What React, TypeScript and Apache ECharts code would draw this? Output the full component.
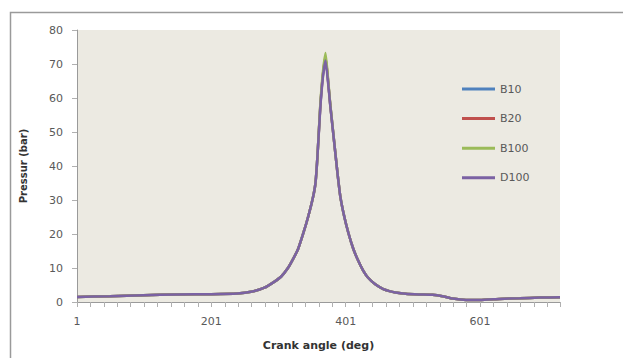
import React, { useEffect, useRef } from "react";
import * as echarts from "echarts";

const crankAngle = [1, 50, 100, 150, 201, 240, 260, 280, 295, 305, 315, 322, 330, 338, 345, 352, 356, 359, 363, 367, 371, 375, 378, 382, 386, 389, 393, 399, 405, 412, 419, 427, 434, 445, 457, 466, 475, 490, 510, 530, 545, 560, 580, 601, 630, 660, 690, 720];

const b10 = [1.5, 1.7, 2.0, 2.2, 2.3, 2.5, 3.0, 4.2, 6.0, 7.5, 10, 12.4, 15.5, 20.3, 25, 30.5, 35, 43, 57, 66.5, 72, 64.5, 58, 50.5, 43, 37.5, 31, 25, 20.3, 15.8, 12.4, 9.2, 7.2, 5.2, 3.8, 3.2, 2.8, 2.4, 2.2, 2.1, 1.7, 1.0, 0.6, 0.6, 0.9, 1.1, 1.3, 1.4];
const b20 = [1.5, 1.7, 2.0, 2.2, 2.3, 2.5, 3.0, 4.2, 6.0, 7.5, 10, 12.4, 15.5, 20.3, 25, 30.5, 35, 43, 57, 66.8, 72.3, 64.6, 58, 50.5, 43, 37.5, 31, 25, 20.3, 15.8, 12.4, 9.2, 7.2, 5.2, 3.8, 3.2, 2.8, 2.4, 2.2, 2.1, 1.7, 1.0, 0.6, 0.6, 0.9, 1.1, 1.3, 1.4];
const b100 = [1.5, 1.7, 2.0, 2.2, 2.3, 2.5, 3.0, 4.2, 6.0, 7.5, 10, 12.4, 15.5, 20.3, 25, 30.5, 35, 43, 57.5, 67.5, 73.2, 65, 58.3, 50.6, 43, 37.5, 31, 25, 20.3, 15.8, 12.4, 9.2, 7.2, 5.2, 3.8, 3.2, 2.8, 2.4, 2.2, 2.1, 1.7, 1.0, 0.6, 0.6, 0.9, 1.1, 1.3, 1.4];
const d100 = [1.5, 1.7, 2.0, 2.2, 2.3, 2.5, 3.0, 4.2, 6.0, 7.5, 10, 12.4, 15.5, 20.3, 25, 30.5, 35, 43, 56.5, 66, 71, 64, 57.8, 50.4, 43, 37.5, 31, 25, 20.3, 15.8, 12.4, 9.2, 7.2, 5.2, 3.8, 3.2, 2.8, 2.4, 2.2, 2.1, 1.7, 1.0, 0.6, 0.6, 0.9, 1.1, 1.3, 1.4];

const seriesNames = ["B10", "B20", "B100", "D100"];
const seriesColors = ["#4F81BD", "#C0504D", "#9BBB59", "#7B62A3"];
const xLabelValues = [1, 201, 401, 601];
const xTickValues = Array.from({ length: 37 }, (_, i) => (i === 36 ? 720 : 1 + i * 20));

export default function App() {
  const ref = useRef<HTMLDivElement>(null);
  useEffect(() => {
    if (!ref.current) return;
    const chart = echarts.init(ref.current, undefined, { renderer: "svg" });
    const all = [b10, b20, b100, d100];
    const font = "DejaVu Sans";
    chart.setOption({
      animation: false,
      backgroundColor: "#ffffff",
      graphic: [
        {
          type: "polyline",
          shape: { points: [[10.5, 358], [10.5, 12.5], [623, 12.5]] },
          style: { fill: "none", stroke: "#9a9a9a", lineWidth: 1.5 },
          silent: true,
        },
      ],
      grid: {
        left: 77,
        right: 63,
        top: 30,
        bottom: 56,
        show: true,
        backgroundColor: "#ECEAE2",
        borderWidth: 0,
      },
      legend: {
        orient: "vertical",
        left: 457,
        top: 77,
        icon: "rect",
        itemWidth: 33,
        itemHeight: 3,
        itemGap: 15.6,
        data: seriesNames,
        textStyle: { fontFamily: font, fontSize: 11, color: "#595959", lineHeight: 14 },
      },
      xAxis: {
        type: "value",
        min: 1,
        max: 720,
        name: "Crank angle (deg)",
        nameLocation: "middle",
        nameGap: 38,
        nameTextStyle: { fontFamily: font, fontSize: 11, fontWeight: "bold", color: "#333" },
        splitLine: { show: false },
        axisLine: { show: true, lineStyle: { color: "#9a9a9a", width: 1 } },
        axisTick: { show: true, length: 5, customValues: xTickValues, lineStyle: { color: "#b0b0b0" } },
        axisLabel: { customValues: xLabelValues, fontFamily: font, fontSize: 11, color: "#595959", margin: 14 },
      },
      yAxis: {
        type: "value",
        min: 0,
        max: 80,
        interval: 10,
        name: "Pressur (bar)",
        nameLocation: "middle",
        nameGap: 49,
        nameTextStyle: { fontFamily: font, fontSize: 10, fontWeight: "bold", color: "#333" },
        splitLine: { show: false },
        axisLine: { show: true, lineStyle: { color: "#9a9a9a", width: 1 } },
        axisTick: { show: true, length: 5, lineStyle: { color: "#b0b0b0" } },
        axisLabel: { fontFamily: font, fontSize: 11, color: "#595959", margin: 14 },
      },
      series: seriesNames.map((name, i) => ({
        name,
        type: "line",
        showSymbol: false,
        symbol: "none",
        smooth: 0.15,
        color: seriesColors[i],
        lineStyle: { width: 2.5, color: seriesColors[i] },
        data: crankAngle.map((x, j) => [x, all[i][j]]),
      })),
    });
    return () => chart.dispose();
  }, []);
  return <div ref={ref} style={{ position: "fixed", left: 0, top: 0, width: 623, height: 358 }} />;
}
